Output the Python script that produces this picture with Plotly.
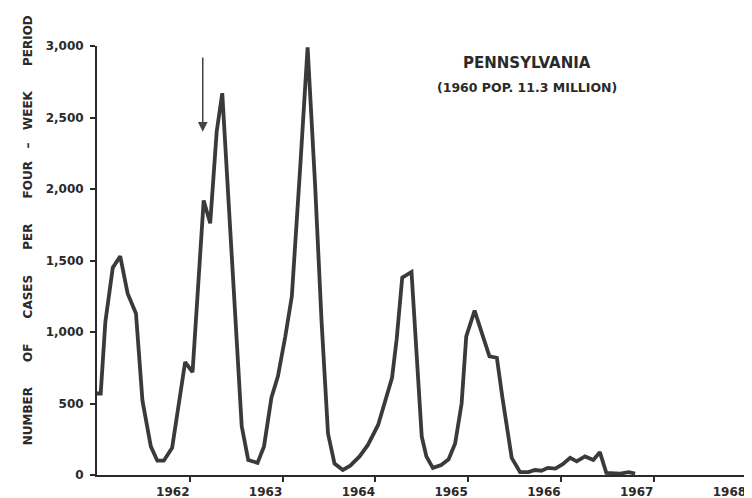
import plotly.graph_objects as go

# Four-week periods (decimal year) and reported cases
period_year = [
    1961.00, 1961.04, 1961.09, 1961.17, 1961.25, 1961.33, 1961.42, 1961.49, 1961.58, 1961.65,
    1961.72, 1961.81, 1961.95, 1962.03, 1962.15, 1962.22, 1962.29, 1962.35, 1962.56, 1962.63,
    1962.73, 1962.80, 1962.88, 1962.95, 1963.03, 1963.10, 1963.19, 1963.27, 1963.35, 1963.42,
    1963.49, 1963.56, 1963.65, 1963.73, 1963.83, 1963.92, 1964.03, 1964.10, 1964.18, 1964.23,
    1964.29, 1964.39, 1964.50, 1964.55, 1964.62, 1964.71, 1964.79, 1964.86, 1964.93, 1964.98,
    1965.07, 1965.23, 1965.31, 1965.37, 1965.47, 1965.56, 1965.65, 1965.72, 1965.79, 1965.86,
    1965.94, 1966.02, 1966.10, 1966.17, 1966.26, 1966.35, 1966.42, 1966.49, 1966.64, 1966.73,
    1966.80,
]
cases = [
    570, 570, 1070, 1450, 1530, 1270, 1130, 520, 200, 100,
    100, 190, 790, 720, 1920, 1760, 2400, 2670, 340, 105,
    85, 200, 540, 690, 970, 1250, 2150, 2990, 2040, 1080,
    290, 80, 35, 65, 130, 210, 350, 510, 680, 950,
    1380, 1420, 270, 130, 50, 70, 110, 220, 500, 970,
    1150, 830, 820, 540, 120, 20, 20, 35, 30, 50,
    45, 75, 120, 95, 130, 105, 160, 15, 10, 20,
    10,
]

x_tick_vals = [1962, 1963, 1964, 1965, 1966, 1967, 1968]
x_tick_text = ["1962", "1963", "1964", "1965", "1966", "1967", "1968"]
y_tick_vals = [0, 500, 1000, 1500, 2000, 2500, 3000]
y_tick_text = ["0", "500", "1,000", "1,500", "2,000", "2,500", "3,000"]

# arrow marking a point in 1962
arrow_year = 1962.14
arrow_tip = 2400
arrow_tail = 2930

ink = "#2a2a2a"
font_family = "DejaVu Sans"

fig = go.Figure()
fig.add_trace(go.Scatter(
    x=period_year, y=cases, mode="lines",
    line=dict(color="#3a3a3a", width=3.8),
    hoverinfo="skip", showlegend=False,
))

nb = "\u00a0"
ytitle = (nb * 6).join(["NUMBER", "OF", "CASES", "PER", "FOUR" + nb * 3 + "\u2013" + nb * 3 + "WEEK", "PERIOD"])

# the page adds an 8px body margin, so the figure is 8px smaller than the window
fig.update_layout(
    width=744, height=490,
    margin=dict(l=89, r=0, t=38, b=23),
    paper_bgcolor="white", plot_bgcolor="white",
    font=dict(family=font_family, color=ink, size=12),
    xaxis=dict(
        range=[1961, 1968.06], showgrid=False, zeroline=False,
        showline=True, linecolor=ink, linewidth=2,
        ticks="outside", ticklen=5, tickwidth=1.5, tickcolor=ink,
        tickvals=x_tick_vals, ticktext=x_tick_text,
        ticklabelshift=-17,
        tickfont=dict(family=font_family, size=12, color=ink, weight="bold"),
    ),
    yaxis=dict(
        range=[0, 3000], showgrid=False, zeroline=False,
        showline=True, linecolor=ink, linewidth=2,
        ticks="outside", ticklen=5, tickwidth=1.5, tickcolor=ink,
        tickvals=y_tick_vals, ticktext=y_tick_text,
        ticklabelstandoff=4,
        tickfont=dict(family=font_family, size=12, color=ink, weight="bold"),
    ),
    annotations=[
        dict(text="PENNSYLVANIA", xref="paper", yref="paper", x=0.656, y=0.96,
             xanchor="center", yanchor="middle",
             showarrow=False, font=dict(size=15, weight="bold", color=ink)),
        dict(text="(1960 POP. 11.3 MILLION)", xref="paper", yref="paper", x=0.656, y=0.904,
             xanchor="center", yanchor="middle",
             showarrow=False, font=dict(size=12.5, weight="bold", color=ink)),
        dict(text=ytitle, xref="paper", yref="paper", x=-0.105, y=0.571,
             xanchor="center", yanchor="middle",
             textangle=-90, showarrow=False,
             font=dict(size=12, weight="bold", color=ink)),
        dict(text="", x=arrow_year, y=arrow_tip, xref="x", yref="y",
             ax=arrow_year, ay=arrow_tail, axref="x", ayref="y",
             showarrow=True, arrowhead=2, arrowsize=1.3, arrowwidth=1.5,
             arrowcolor="#444"),
    ],
)

fig.write_html("out.html")
